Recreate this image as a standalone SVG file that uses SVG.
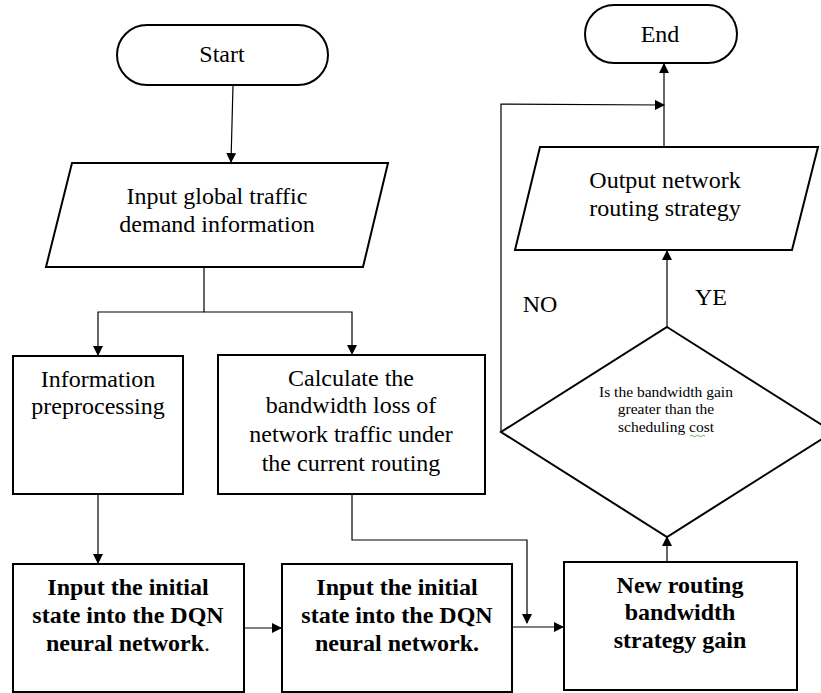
<svg xmlns="http://www.w3.org/2000/svg" width="821" height="693" viewBox="0 0 821 693">
<style>
.shape{fill:#fff;stroke:#000;stroke-width:2}
.con{fill:none;stroke:#000;stroke-width:1.2}
text{font-family:'Liberation Serif','Times New Roman',serif;font-size:24px;fill:#000;text-anchor:middle}
.b{font-weight:bold}
.s{font-size:15.5px}
</style>
<defs>
<marker id="ah" markerWidth="10" markerHeight="10" refX="9" refY="5" orient="auto" markerUnits="userSpaceOnUse">
<path d="M0,0 L10,5 L0,10 Z" fill="#000"/>
</marker>
</defs>
<rect width="821" height="693" fill="#fff"/>
<g id="connectors">
<path class="con" d="M233,85 L231,162" marker-end="url(#ah)"/>
<path class="con" d="M204,267 V312 H98 V355" marker-end="url(#ah)"/>
<path class="con" d="M204,312 H352 V354" marker-end="url(#ah)"/>
<path class="con" d="M98,494 V563" marker-end="url(#ah)"/>
<path class="con" d="M352,494 V540 H527 V623" marker-end="url(#ah)"/>
<path class="con" d="M244,628 H281" marker-end="url(#ah)"/>
<path class="con" d="M512,627 H563" marker-end="url(#ah)"/>
<path class="con" d="M667,562 V537" marker-end="url(#ah)"/>
<path class="con" d="M667,327 V251" marker-end="url(#ah)"/>
<path class="con" d="M664,147 V64" marker-end="url(#ah)"/>
<path class="con" d="M501,432 V104 L664,105" marker-end="url(#ah)"/>
</g>
<g id="start">
<rect class="shape" x="117" y="25" width="211" height="60" rx="30"/>
<text x="222" y="62">Start</text>
</g>
<g id="input-global">
<polygon class="shape" points="72,163 388,163 363,267 46,267"/>
<text x="217" y="204">Input global traffic</text>
<text x="217" y="232">demand information</text>
</g>
<g id="preprocess">
<rect class="shape" x="13" y="356" width="170" height="138"/>
<text x="98" y="387">Information</text>
<text x="98" y="414">preprocessing</text>
</g>
<g id="calc">
<rect class="shape" x="218" y="355" width="267" height="139"/>
<text x="351" y="386">Calculate the</text>
<text x="351" y="413">bandwidth loss of</text>
<text x="351" y="442">network traffic under</text>
<text x="351" y="471">the current routing</text>
</g>
<g id="dqn1">
<rect class="shape" x="13" y="564" width="231" height="128"/>
<text class="b" x="128" y="595">Input the initial</text>
<text class="b" x="128" y="623">state into the DQN</text>
<text class="b" x="128" y="651">neural network<tspan font-weight="normal">.</tspan></text>
</g>
<g id="dqn2">
<rect class="shape" x="282" y="564" width="230" height="128"/>
<text class="b" x="397" y="595">Input the initial</text>
<text class="b" x="397" y="623">state into the DQN</text>
<text class="b" x="397" y="651">neural network.</text>
</g>
<g id="gain">
<rect class="shape" x="564" y="562" width="233" height="128"/>
<text class="b" x="680" y="593">New routing</text>
<text class="b" x="680" y="620">bandwidth</text>
<text class="b" x="680" y="648">strategy gain</text>
</g>
<g id="decision">
<polygon class="shape" points="667,327 833,432 667,537 501,432"/>
<text class="s" x="666" y="397">Is the bandwidth gain</text>
<text class="s" x="666" y="414">greater than the</text>
<text class="s" x="666" y="432">scheduling cost</text>
<path d="M690,436 q1.5,-1.5 3,0 t3,0 t3,0 t3,0 t3,0" fill="none" stroke="#3a9a3a" stroke-width="0.8"/>
</g>
<g id="output">
<polygon class="shape" points="540,147 818,147 792,250 515,250"/>
<text x="665" y="188">Output network</text>
<text x="665" y="216">routing strategy</text>
</g>
<g id="end">
<rect class="shape" x="585" y="5" width="152" height="58" rx="29"/>
<text x="660" y="42">End</text>
</g>
<g id="labels">
<text x="540" y="312">NO</text>
<text x="711" y="305">YE</text>
</g>
</svg>
